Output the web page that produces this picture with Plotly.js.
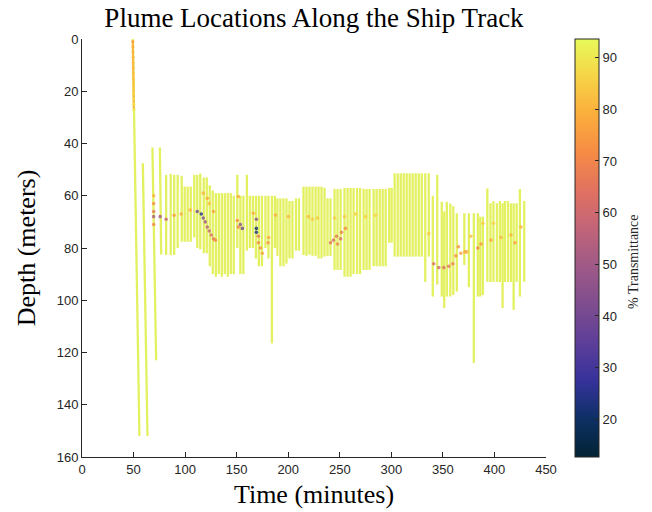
<!DOCTYPE html>
<html>
<head>
<meta charset="utf-8">
<script src="https://cdn.plot.ly/plotly-3.0.1.min.js"></script>
<style>html,body{margin:0;padding:0;background:#fff;}#chart{width:652px;height:512px;}</style>
</head>
<body>
<div id="chart"></div>
<script>
// ---- Data ----
// Deep, slanted casts at the start of the track (time at top, time at bottom, depths)
const deepTimeTop    = [49.3, 59.0, 68.3, 75.5];
const deepTimeBottom = [55.7, 63.5, 71.9, 76.8];
const deepTop        = [0, 47.6, 41.5, 41.5];
const deepBottom     = [152, 152, 123, 82.5];

// Tow-yo casts (time in minutes, top and bottom depth in meters)
const castTime = [81.6, 86.0, 89.4, 92.8, 96.7, 99.6, 102.5, 105.5, 108.9, 111.8,
  114.7, 118.1, 121.0, 123.9, 126.8, 129.8, 132.7, 135.6, 138.5, 141.4,
  144.3, 147.2, 150.6, 153.6, 156.5, 159.9, 162.8, 165.7, 168.6, 171.5,
  174.5, 177.9, 180.8, 184.2, 187.1, 189.5, 192.4, 195.4, 198.3, 201.2,
  204.1, 207.5, 210.4, 214.8, 217.7, 220.6, 223.5, 226.5, 229.4, 232.3,
  235.2, 238.1, 241.0, 244.9, 247.8, 250.8, 254.6, 257.6, 260.5, 263.4,
  266.8, 269.7, 273.1, 276.0, 278.9, 282.8, 285.7, 288.7, 291.6, 294.5,
  297.9, 300.3, 303.2, 306.2, 309.1, 312.0, 314.9, 317.8, 320.7, 323.6,
  326.6, 329.5, 332.9, 336.3, 340.2, 344.5, 348.9, 351.3, 353.8, 357.2,
  360.1, 363.5, 370.8, 375.2, 380.0, 383.9, 386.3, 388.8, 393.1, 396.1,
  399.0, 402.4, 405.3, 407.9, 410.1, 413.1, 416.0, 418.6, 421.5, 424.7,
  428.9];
const castTop = [52, 51.6, 52, 52, 52.4, 56.5, 56.5, 56.5, 52, 52,
  51.5, 53, 53, 56, 58, 59, 59, 59, 59, 59,
  59, 60, 52, 60, 60, 52, 60, 60, 60, 60,
  60, 60, 60, 60, 60, 61, 61, 61, 61, 62,
  62, 61, 61, 56.5, 56.5, 56.5, 56.5, 56.5, 56.5, 56.5,
  57, 61, 61, 57.4, 57.4, 57.4, 57, 57, 57, 57,
  57, 57, 57.4, 57.4, 57.4, 57.4, 57.4, 57.4, 57.4, 57.4,
  57, 57, 51.4, 51.4, 51.4, 51.4, 51.4, 51.4, 51.4, 51.4,
  51.4, 51.4, 51.4, 51.4, 60, 52, 62.3, 66, 62.3, 63,
  64, 66.7, 66.7, 66.7, 66.7, 66.7, 68, 68, 57.2, 62.9,
  62, 62.9, 62, 62.9, 62, 62, 62.9, 62.9, 62.9, 57.4,
  62];
const castBottom = [82.7, 82.7, 82.7, 80, 77.6, 77.6, 77.6, 77.6, 76, 80,
  80.5, 82, 82, 87, 90, 91, 90, 91, 90, 91,
  90, 90, 80, 90, 90, 81, 80, 80, 84, 87,
  87, 80, 84, 116.5, 80, 83, 87, 87, 86, 84,
  84, 81, 81, 82.7, 83, 82.5, 83, 83, 84, 84,
  83.3, 83, 83, 88.4, 88.4, 88.4, 91, 91, 91, 90,
  90, 90, 88.4, 88.4, 88.4, 87, 87, 87, 87, 87,
  78, 78, 83.3, 83.3, 83.3, 83.3, 83.3, 83.3, 83.3, 83.3,
  83.3, 83.3, 93, 83.3, 98.6, 94, 98.6, 103, 98.6, 98.6,
  98, 96.7, 86.5, 95, 124, 98.6, 98.6, 98, 92.9, 93,
  93, 93, 93, 103, 93, 93, 93, 103.7, 93, 98.6,
  92.9];

// Transmittance along the first descent (time, depth, %)
const surfaceTime  = [49.3, 49.4, 49.4, 49.5, 49.6, 49.7, 49.7, 49.8, 49.9, 50.0, 50.0, 50.1, 50.2, 50.3];
const surfaceDepth = [1, 3, 5, 7, 9, 11, 13, 15, 17, 19, 21, 23, 25, 27];
const surfaceValue = [76, 79, 80, 81, 82, 82, 83, 84, 85, 86, 87, 88, 89, 90];

// Plume detections (time, depth, % transmittance)
const plumeTime = [
  69.5, 69.5, 69.5, 69.5, 69.5, 75.8, 81.6, 89.4, 96.2, 105.0,
  111.8, 115.7, 117.6, 119.5, 121.5, 123.4, 125.4, 127.5, 129.3, 117.6, 121.5, 123.4, 127.5,
  150.6, 151.6, 153.6, 155.5, 151.6, 166.2, 169.1, 169.1, 169.1, 171.1, 171.1, 173.0, 174.9, 180.5, 181.0,
  187.6, 200.2, 219.7, 223.5, 228.4,
  241.0, 243.9, 246.9, 247.8, 250.8, 251.7, 255.6, 244.9, 254.6,
  265.3, 275.0, 284.8,
  336.3, 341.1, 346.0, 350.9, 355.7, 359.6, 362.5, 365.0, 367.4, 371.3, 373.2, 377.1,
  383.9, 386.9, 396.6, 406.3, 416.0, 419.9, 425.7, 388.8, 399.0];
const plumeDepth = [
  60, 63, 66, 68, 71, 68, 69, 67.5, 67, 65.5,
  66, 67, 68.5, 70, 72, 73.5, 75, 76.5, 77, 59, 61, 63, 66,
  69.5, 60.3, 71, 72.5, 72, 66.7, 69, 72.5, 74, 75.5, 78, 80, 82, 78, 76,
  67.4, 68, 68, 69, 68.5,
  78, 77, 75.5, 78.5, 76.5, 74, 72.5, 68.5, 68,
  67, 68, 67.5,
  74.5, 86, 87.5, 87.5, 87, 86, 83, 79.5, 82, 81.5, 81.5, 75.5,
  80, 78.5, 77, 76, 75, 78, 72, 70.5, 70.5];
const plumeValue = [
  80, 72, 66, 52, 70, 50, 58, 76, 78, 80,
  40, 24, 42, 50, 55, 58, 62, 66, 70, 80, 78, 82, 76,
  72, 78, 45, 40, 70, 78, 45, 21, 24, 66, 70, 72, 76, 74, 78,
  79, 81, 82, 84, 84,
  65, 63, 66, 70, 62, 68, 72, 85, 85,
  85, 86, 86,
  84, 62, 60, 63, 65, 68, 72, 72, 75, 76, 78, 82,
  70, 74, 78, 80, 80, 76, 80, 85, 85];

// Axis ticks
const xTicks = [0, 50, 100, 150, 200, 250, 300, 350, 400, 450];
const yTicks = [0, 20, 40, 60, 80, 100, 120, 140, 160];
const cbTicks = [20, 30, 40, 50, 60, 70, 80, 90];

// cmocean "thermal"
const thermal = ['rgb(3,35,51)', 'rgb(13,48,100)', 'rgb(53,50,155)', 'rgb(93,62,153)',
  'rgb(126,77,143)', 'rgb(158,89,135)', 'rgb(193,100,121)', 'rgb(225,113,97)',
  'rgb(246,139,69)', 'rgb(251,173,60)', 'rgb(246,211,70)', 'rgb(231,250,90)'];
const colorscale = thermal.map((c, i) => [i / (thermal.length - 1), c]);
const CMIN = 12.7, CMAX = 93.6;

// ---- Build traces ----
const trackX = [], trackY = [];
for (let i = 0; i < deepTimeTop.length; i++) {
  trackX.push(deepTimeTop[i], deepTimeBottom[i], null);
  trackY.push(deepTop[i], deepBottom[i], null);
}
for (let i = 0; i < castTime.length; i++) {
  trackX.push(castTime[i], castTime[i], null);
  trackY.push(castTop[i], castBottom[i], null);
}

const track = {
  type: 'scatter', mode: 'lines', x: trackX, y: trackY,
  line: {color: 'rgb(227,241,96)', width: 2.3},
  hoverinfo: 'skip', showlegend: false, connectgaps: false
};

const surface = {
  type: 'scatter', mode: 'lines+markers', x: surfaceTime, y: surfaceDepth,
  line: {color: 'rgb(249,180,64)', width: 2},
  marker: {color: surfaceValue, colorscale: colorscale, cmin: CMIN, cmax: CMAX, size: 3, line: {width: 0}},
  showlegend: false, hoverinfo: 'skip'
};

const plume = {
  type: 'scatter', mode: 'markers', x: plumeTime, y: plumeDepth,
  marker: {
    color: plumeValue, colorscale: colorscale, cmin: CMIN, cmax: CMAX, size: 3.6,
    opacity: 0.8, line: {width: 0},
    showscale: true,
    colorbar: {
      x: 1.0626, xanchor: 'left', xpad: 0, ypad: 0,
      y: 0.5, yanchor: 'middle', len: 418, lenmode: 'pixels', thickness: 24,
      outlinewidth: 1, outlinecolor: '#262626',
      tickvals: cbTicks, ticktext: cbTicks.map(String),
      ticks: 'inside', ticklen: 4, tickcolor: '#262626',
      tickfont: {family: 'Liberation Sans, Arial, sans-serif', size: 13, color: '#262626'}
    }
  },
  showlegend: false
};

const axisFont = {family: 'Liberation Sans, Arial, sans-serif', size: 13, color: '#262626'};
const titleFont = {family: 'Liberation Serif, serif', size: 26, color: '#000'};

const layout = {
  width: 652, height: 512,
  margin: {l: 82, r: 106, t: 39, b: 55},
  paper_bgcolor: '#fff', plot_bgcolor: '#fff',
  title: {text: 'Plume Locations Along the Ship Track', xref: 'paper', x: 0.5,
    yref: 'container', y: 0.966, yanchor: 'middle',
    font: {family: 'Liberation Serif, serif', size: 27, color: '#000'}},
  xaxis: {
    range: [0, 450], tickvals: xTicks, ticktext: xTicks.map(String),
    ticks: 'inside', ticklen: 5, tickcolor: '#262626',
    showline: true, linecolor: '#262626', linewidth: 1,
    showgrid: false, zeroline: false, tickfont: axisFont,
    title: {text: 'Time (minutes)', font: titleFont, standoff: 9}
  },
  yaxis: {
    range: [160, 0], tickvals: yTicks, ticktext: yTicks.map(String),
    ticks: 'inside', ticklen: 5, tickcolor: '#262626',
    showline: true, linecolor: '#262626', linewidth: 1,
    showgrid: false, zeroline: false, tickfont: axisFont,
    title: {text: 'Depth (meters)', font: titleFont, standoff: 13}
  },
  annotations: [{
    text: '% Transmittance', textangle: -90, showarrow: false,
    xref: 'paper', yref: 'paper', x: 1.19, y: 0.467, xanchor: 'center', yanchor: 'middle',
    font: {family: 'Liberation Serif, serif', size: 14, color: '#262626'}
  }]
};

Plotly.newPlot('chart', [track, surface, plume], layout, {displayModeBar: false, staticPlot: true});
</script>
</body>
</html>
